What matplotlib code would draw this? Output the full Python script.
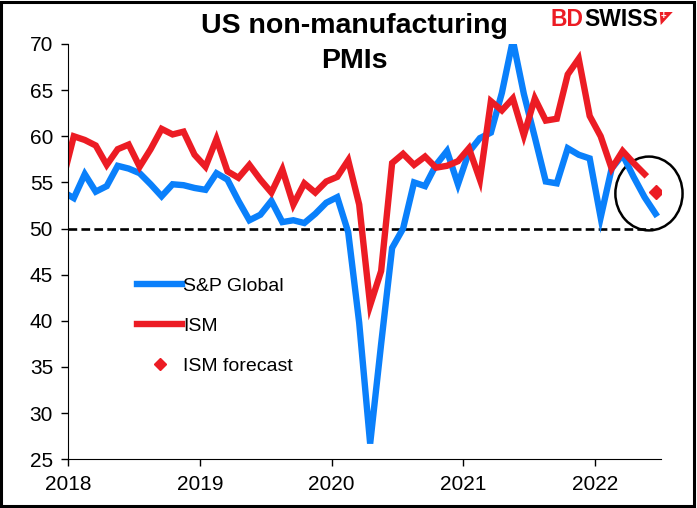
import matplotlib.pyplot as plt
import numpy as np
from matplotlib.patches import Ellipse, Polygon, Rectangle
from matplotlib.lines import Line2D

plt.rcParams['font.family'] = ['Liberation Sans', 'DejaVu Sans']

# datos mensuales desde dic-2017
sp_global = [54.0,
             53.3, 55.9, 54.0, 54.6, 56.8, 56.5, 56.0, 54.8, 53.5, 54.8, 54.7, 54.4,
             54.2, 56.0, 55.3, 53.0, 50.9, 51.5, 53.0, 50.7, 50.9, 50.6, 51.6, 52.8,
             53.4, 49.6, 39.8, 26.7, 37.5, 47.9, 50.0, 55.0, 54.6, 56.9, 58.4, 54.8,
             58.3, 59.8, 60.4, 64.7, 70.4, 64.6, 59.9, 55.1, 54.9, 58.7, 58.0, 57.6,
             51.2, 56.5, 58.0, 55.6, 53.4, 51.6]
ism = [55.3,
       60.0, 59.6, 59.0, 56.9, 58.6, 59.1, 56.7, 58.6, 60.8, 60.2, 60.5, 58.0,
       56.7, 59.7, 56.2, 55.5, 56.9, 55.3, 53.9, 56.4, 52.6, 54.9, 53.9, 55.1,
       55.6, 57.4, 52.6, 41.7, 45.4, 57.1, 58.1, 56.9, 57.8, 56.6, 56.8, 57.3,
       58.7, 55.3, 63.8, 62.8, 64.1, 60.1, 64.1, 61.7, 61.9, 66.7, 68.4, 62.2,
       60.0, 56.5, 58.4, 57.1, 55.9]
ism_forecast = 54.0
years = [2018, 2019, 2020, 2021, 2022]

# posicion de cada mes (mitad de mes), empezando en dic-2017
x_sp = 2018 + (np.arange(len(sp_global)) - 0.5) / 12
x_ism = x_sp[:len(ism)]
x_fc = x_sp[len(ism)]

azul = '#0a80fb'
rojo = '#ec1c24'
W, H = 697, 508

fig = plt.figure(figsize=(6.97, 5.08), dpi=100)
ax = fig.add_axes([0.098, 0.0959, 0.8504, 0.8175])

ax.hlines(50, 2018, x_fc - 0.02, colors='k', linestyles=(0, (3.3, 1.6)), lw=1.9)
ax.plot(x_sp, sp_global, color=azul, lw=4.6, solid_joinstyle='miter', label='S&P Global')
ax.plot(x_ism, ism, color=rojo, lw=4.6, solid_joinstyle='miter', label='ISM')
ax.plot([x_fc], [ism_forecast], 'D', color=rojo, ms=7, label='ISM forecast')

# circulo alrededor del ultimo dato
circ = Ellipse((x_fc - 0.05, 53.8), 0.51, 8.0, fill=False, ec='k', lw=1.8, clip_on=False)
ax.add_patch(circ)

ax.set_xlim(2018, 2022.5)
ax.set_ylim(25, 70)
ax.set_yticks(range(25, 71, 5))
ax.set_xticks(years)
ax.set_xticklabels([str(y) for y in years])
ax.spines['top'].set_visible(False)
ax.spines['right'].set_visible(False)
ax.tick_params(direction='out', length=5, width=1, labelsize=15, pad=6)

handles = [Line2D([], [], color=azul, lw=4.6),
           Line2D([], [], color=rojo, lw=4.6),
           Line2D([], [], color=rojo, marker='D', ms=6, ls='none')]
ax.legend(handles, ['S&P Global', 'ISM', 'ISM forecast'], loc='upper left',
          bbox_to_anchor=(0.087, 0.48), frameon=False, fontsize=14,
          handlelength=2.3, handletextpad=0.05, labelspacing=1.15)

fig.text(0.508, 0.975, 'US non-manufacturing\nPMIs', ha='center', va='top',
         fontsize=20.5, fontweight='bold', linespacing=1.45)

# logo
t_bd = fig.text(551 / W, 1 - 19 / H, 'BD', color=rojo, fontsize=16.5, fontweight='bold', va='center')
fig.canvas.draw()
bb = t_bd.get_window_extent()
t_sw = fig.text(bb.x1 / W, 1 - 19 / H, 'SWISS', color='k', fontsize=16.5, fontweight='bold', va='center')
fig.canvas.draw()
x0 = t_sw.get_window_extent().x1 + 2
flag = [(x0, 12), (x0 + 13, 12), (x0 + 1, 25)]
fig.patches.append(Polygon([(px / W, 1 - py / H) for px, py in flag], closed=True,
                           fc=rojo, ec='none', transform=fig.transFigure))
fig.text((x0 + 4) / W, 1 - 16 / H, '+', color='white', fontsize=7, fontweight='bold',
         ha='center', va='center')

fig.patches.append(Rectangle((0.002, 0.004), 0.993, 0.992, fill=False, ec='k', lw=2.2,
                             transform=fig.transFigure))

fig.savefig('out.png', dpi=100)
